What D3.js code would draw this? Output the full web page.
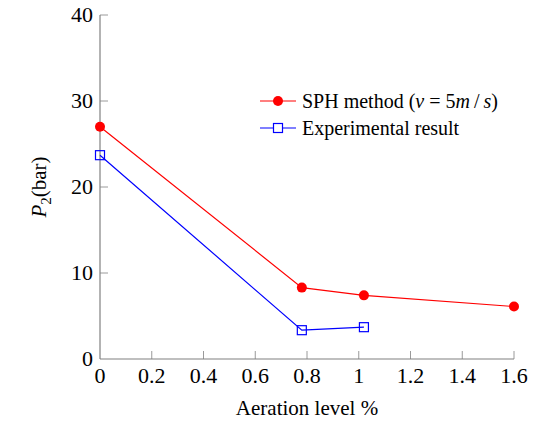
<!DOCTYPE html>
<html>
<head>
  <meta charset='utf-8'>
  <script src='https://cdn.jsdelivr.net/npm/d3@7'></script>
  <style>
    body { margin: 0; background: #fff; }
  </style>
</head>
<body>
  <div id='chart'></div>
  <script>
    var sphX = [0, 0.78, 1.02, 1.6];
    var sphY = [27, 8.3, 7.4, 6.1];
    var expX = [0, 0.78, 1.02];
    var expY = [23.7, 3.35, 3.7];
    var xTicks = [0, 0.2, 0.4, 0.6, 0.8, 1, 1.2, 1.4, 1.6];
    var yTicks = [0, 10, 20, 30, 40];

    var width = 541, height = 425;
    var margin = { top: 15, right: 27, bottom: 66, left: 100 };

    var svg = d3.select('#chart').append('svg')
      .attr('width', width)
      .attr('height', height);

    var x = d3.scaleLinear().domain([0, 1.6]).range([margin.left, width - margin.right]);
    var y = d3.scaleLinear().domain([0, 40]).range([height - margin.bottom, margin.top]);

    var axisColor = '#808080';

    // axis lines
    svg.append('line')
      .attr('x1', x(0)).attr('x2', x(0))
      .attr('y1', y(0)).attr('y2', y(40))
      .attr('stroke', axisColor).attr('stroke-width', 1.2);
    svg.append('line')
      .attr('x1', x(0)).attr('x2', x(1.6))
      .attr('y1', y(0)).attr('y2', y(0))
      .attr('stroke', axisColor).attr('stroke-width', 1.2);

    // ticks (inward)
    svg.selectAll('.xt').data(xTicks.slice(1)).enter().append('line')
      .attr('x1', function(d) { return x(d); }).attr('x2', function(d) { return x(d); })
      .attr('y1', y(0)).attr('y2', y(0) - 8)
      .attr('stroke', axisColor).attr('stroke-width', 0.8);
    svg.selectAll('.yt').data(yTicks.slice(1)).enter().append('line')
      .attr('x1', x(0)).attr('x2', x(0) + 8)
      .attr('y1', function(d) { return y(d); }).attr('y2', function(d) { return y(d); })
      .attr('stroke', axisColor).attr('stroke-width', 0.8);

    // tick labels
    svg.selectAll('.xl').data(xTicks).enter().append('text')
      .attr('x', function(d) { return x(d); })
      .attr('y', y(0) + 24)
      .attr('text-anchor', 'middle')
      .attr('font-size', 22)
      .text(function(d) { return d3.format('')(d); });
    svg.selectAll('.yl').data(yTicks).enter().append('text')
      .attr('x', x(0) - 7)
      .attr('y', function(d) { return y(d); })
      .attr('dy', '0.3em')
      .attr('text-anchor', 'end')
      .attr('font-size', 22)
      .text(function(d) { return d; });

    // axis titles
    svg.append('text')
      .attr('x', (x(0) + x(1.6)) / 2)
      .attr('y', 415)
      .attr('text-anchor', 'middle')
      .attr('font-size', 21)
      .text('Aeration level %');

    var yl = svg.append('text')
      .attr('transform', 'translate(46,' + y(20) + ') rotate(-90)')
      .attr('text-anchor', 'middle')
      .attr('font-size', 21);
    yl.append('tspan').attr('font-style', 'italic').text('P');
    yl.append('tspan').attr('font-size', 15).attr('dy', 5).text('2');
    yl.append('tspan').attr('dy', -5).text('(bar)');

    var line = d3.line()
      .x(function(d) { return x(d[0]); })
      .y(function(d) { return y(d[1]); });

    var sph = d3.zip(sphX, sphY);
    var exp = d3.zip(expX, expY);

    svg.append('path').datum(sph)
      .attr('d', line).attr('fill', 'none').attr('stroke', 'red').attr('stroke-width', 1.2);
    svg.selectAll('.sp').data(sph).enter().append('circle')
      .attr('cx', function(d) { return x(d[0]); })
      .attr('cy', function(d) { return y(d[1]); })
      .attr('r', 5).attr('fill', 'red');

    svg.append('path').datum(exp)
      .attr('d', line).attr('fill', 'none').attr('stroke', 'blue').attr('stroke-width', 1.2);
    svg.selectAll('.ep').data(exp).enter().append('rect')
      .attr('x', function(d) { return x(d[0]) - 4.5; })
      .attr('y', function(d) { return y(d[1]) - 4.5; })
      .attr('width', 9).attr('height', 9)
      .attr('fill', 'none').attr('stroke', 'blue').attr('stroke-width', 1.2);

    // legend
    var lg = svg.append('g').attr('transform', 'translate(260,101)');
    lg.append('line').attr('x1', 0).attr('x2', 36).attr('y1', 0).attr('y2', 0)
      .attr('stroke', 'red').attr('stroke-width', 1.2);
    lg.append('circle').attr('cx', 18).attr('cy', 0).attr('r', 5).attr('fill', 'red');
    var t1 = lg.append('text').attr('x', 42).attr('y', 0).attr('dy', '0.33em').attr('font-size', 20);
    t1.append('tspan').text('SPH method (');
    t1.append('tspan').attr('font-style', 'italic').text('v');
    t1.append('tspan').text(' = 5');
    t1.append('tspan').attr('font-style', 'italic').text('m');
    t1.append('tspan').text('\u2009/\u2009');
    t1.append('tspan').attr('font-style', 'italic').text('s');
    t1.append('tspan').text(')');

    lg.append('line').attr('x1', 0).attr('x2', 36).attr('y1', 27).attr('y2', 27)
      .attr('stroke', 'blue').attr('stroke-width', 1.2);
    lg.append('rect').attr('x', 13.5).attr('y', 22.5).attr('width', 9).attr('height', 9)
      .attr('fill', 'white').attr('stroke', 'blue').attr('stroke-width', 1.2);
    lg.append('text').attr('x', 42).attr('y', 27).attr('dy', '0.33em').attr('font-size', 20)
      .text('Experimental result');

    // serif everywhere
    svg.selectAll('text, tspan').style('font-family', '"Liberation Serif", "Times New Roman", serif', 'important');
  </script>
</body>
</html>
